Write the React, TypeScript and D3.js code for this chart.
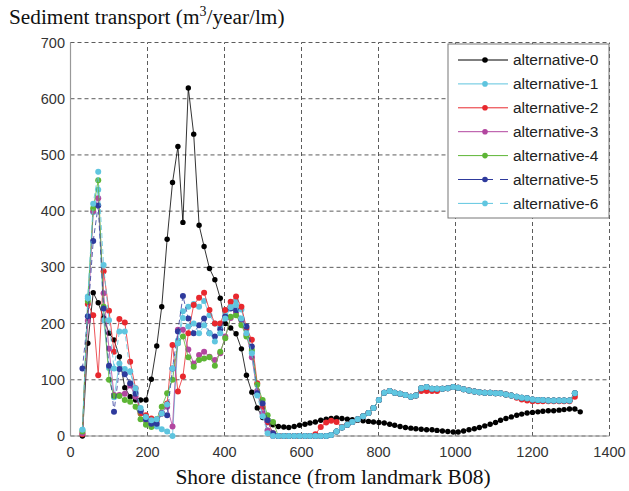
import * as React from 'react';
import * as d3 from 'd3';

// shore distance of each profile (m from landmark B08)
const distance = [
  31, 45, 59, 72, 86, 100, 113, 127, 141, 155,
  169, 182, 196, 210, 224, 237, 251, 265, 279, 292,
  306, 320, 334, 347, 361, 375, 389, 402, 416, 430,
  444, 457, 471, 485, 499, 512, 526, 540, 554, 567,
  581, 595, 609, 622, 636, 650, 664, 677, 691, 705,
  719, 732, 746, 760, 774, 787, 801, 815, 829, 842,
  856, 870, 884, 897, 911, 925, 939, 952, 966, 980,
  994, 1007, 1021, 1035, 1049, 1062, 1076, 1090, 1104, 1117,
  1131, 1145, 1159, 1172, 1186, 1200, 1214, 1227, 1241, 1255,
  1269, 1282, 1296, 1310, 1324,
];

const alt0 = [
  0, 165, 255, 237, 210, 183, 171, 141, 86, 70,
  64, 64, 64, 101, 160, 230, 350, 451, 515, 380,
  619, 537, 375, 337, 298, 278, 245, 200, 192, 182,
  155, 108, 78, 50, 33, 24, 20, 17, 16, 15,
  17, 19, 21, 23, 25, 28, 30, 31, 32, 31,
  30, 29, 28, 27, 26, 25, 24, 23, 21, 19,
  17, 15, 14, 13, 12, 11, 11, 10, 9, 8,
  7, 7, 9, 11, 13, 15, 18, 21, 24, 28,
  31, 34, 37, 39, 41, 42, 43, 44, 45, 45,
  46, 47, 48, 48, 43,
];

// first 37 profiles (31 .. 526 m) of the alternatives
const alt1Near = [
  11, 248, 398, 438, 206, 121, 69, 129, 119, 114,
  79, 45, 34, 22, 17, 12, 8, 0, 170, 222,
  230, 235, 230, 240, 215, 200, 195, 215, 230, 240,
  225, 190, 150, 80, 40, 10, 0,
];
const alt2Near = [
  3, 235, 215, 108, 293, 223, 150, 208, 202, 132,
  85, 40, 37, 31, 28, 40, 58, 162, 79, 106,
  183, 233, 246, 255, 224, 200, 200, 224, 239, 248,
  230, 192, 171, 94, 52, 25, 5,
];
const alt3Near = [
  5, 205, 400, 423, 254, 155, 73, 73, 75, 90,
  70, 45, 28, 25, 30, 42, 52, 17, 189, 189,
  154, 129, 144, 150, 141, 135, 147, 177, 210, 220,
  205, 180, 140, 80, 40, 10, 0,
];
const alt4Near = [
  8, 240, 405, 455, 230, 100, 71, 71, 64, 61,
  52, 30, 20, 16, 30, 52, 76, 100, 165, 177,
  140, 123, 135, 138, 140, 125, 150, 174, 212, 215,
  197, 177, 153, 91, 64, 37, 25,
];
const alt5Near = [
  120, 213, 347, 410, 227, 125, 43, 119, 110, 94,
  75, 45, 30, 22, 22, 40, 37, 120, 186, 249,
  209, 183, 197, 209, 183, 177, 190, 212, 227, 224,
  208, 195, 159, 76, 58, 28, 5,
];
const alt6Near = [
  11, 245, 413, 470, 304, 206, 120, 186, 186, 115,
  85, 50, 34, 28, 30, 40, 56, 120, 165, 210,
  195, 200, 183, 197, 183, 168, 183, 209, 229, 233,
  209, 183, 147, 72, 35, 5, 0,
];

// remaining profiles (540 .. 1310 m), where alternatives 1, 3, 4, 5, 6 coincide
const tailShared = [
  0, 0, 0, 0, 0, 0, 0, 0, 0, 0,
  2, 8, 15, 20, 25, 30, 35, 41, 50, 64,
  77, 80, 77, 75, 73, 70, 72, 85, 87, 84,
  84, 84, 85, 87, 86, 83, 81, 79, 78, 77,
  77, 76, 76, 74, 72, 70, 68, 67, 65, 64,
  64, 63, 63, 63, 63, 63, 76,
];
const alt2Tail = [
  0, 0, 0, 0, 0, 0, 0, 3, 16, 24,
  27, 25, 16, 20, 25, 30, 35, 41, 50, 64,
  77, 80, 77, 75, 73, 70, 72, 80, 80, 80,
  80, 84, 85, 87, 86, 83, 81, 79, 78, 77,
  77, 76, 76, 74, 72, 68, 65, 63, 62, 62,
  62, 62, 62, 62, 62, 62, 70,
];

const names = ['alternative-0', 'alternative-1', 'alternative-2', 'alternative-3',
  'alternative-4', 'alternative-5', 'alternative-6'];
const colors = ['#000000', '#5ec4de', '#e8282e', '#b2469f', '#5db535', '#2e3a9c', '#60c6e0'];

const series = [
  alt0,
  alt1Near.concat(tailShared),
  alt2Near.concat(alt2Tail),
  alt3Near.concat(tailShared),
  alt4Near.concat(tailShared),
  alt5Near.concat(tailShared),
  alt6Near.concat(tailShared),
];

const W = 629;
const H = 491;

const App = () => {
  const x = d3.scaleLinear().domain([0, 1400]).range([70.5, 609.5]);
  const y = d3.scaleLinear().domain([0, 700]).range([436, 42.5]);
  const xTicks = x.ticks(7);
  const yTicks = y.ticks(7);

  const line = d3.line<number>()
    .x((d, i) => x(distance[i]))
    .y((d) => y(d));

  const sans = 'Liberation Sans, Arial, sans-serif';
  const serif = 'Liberation Serif, Times New Roman, serif';

  const legX = 448, legY = 44, legW = 161, legH = 174, legStep = 23.9;

  return (
    <svg width={W} height={H} style={{ position: 'absolute', left: 0, top: 0, background: '#fff' }}>
      {/* grid */}
      {xTicks.map((t) => (
        <line key={'gx' + t} x1={x(t)} x2={x(t)} y1={y(0)} y2={y(700)}
          stroke="#4a4a4a" strokeWidth={0.9} strokeDasharray="4,3" />
      ))}
      {yTicks.map((t) => (
        <line key={'gy' + t} x1={x(0)} x2={x(1400)} y1={y(t)} y2={y(t)}
          stroke="#4a4a4a" strokeWidth={0.9} strokeDasharray="4,3" />
      ))}
      {/* axes */}
      <line x1={x(0)} x2={x(0)} y1={y(0)} y2={y(700)} stroke="#999" strokeWidth={1.2} />
      <line x1={x(0)} x2={x(1400)} y1={y(0)} y2={y(0)} stroke="#999" strokeWidth={1.2} />

      {/* series */}
      {series.map((vals, s) => (
        <g key={'s' + s}>
          <path d={line(vals) || ''} fill="none" stroke={colors[s]} strokeWidth={0.8}
            strokeDasharray={s >= 5 ? '5,3' : undefined} />
          {vals.map((v, i) => (
            <circle key={i} cx={x(distance[i])} cy={y(v)} r={s === 0 ? 2.7 : 3} fill={colors[s]} />
          ))}
        </g>
      ))}

      {/* tick labels */}
      {yTicks.map((t) => (
        <text key={'ty' + t} x={65} y={y(t)} dy="0.35em" textAnchor="end"
          fontFamily={sans} fontSize={14.5} fill="#333">{t}</text>
      ))}
      {xTicks.map((t) => (
        <text key={'tx' + t} x={x(t)} y={457} textAnchor="middle"
          fontFamily={sans} fontSize={14.5} fill="#333">{t}</text>
      ))}

      {/* titles */}
      <text x={9} y={24} fontFamily={serif} fontSize={21.3} fill="#111">
        Sediment transport (m<tspan dy={-8} fontSize={14}>3</tspan><tspan dy={8}>/year/lm)</tspan>
      </text>
      <text x={333} y={484} textAnchor="middle" fontFamily={serif} fontSize={21.5} fill="#111">
        Shore distance (from landmark B08)
      </text>

      {/* legend */}
      <rect x={legX} y={legY} width={legW} height={legH} fill="#fff" stroke="#777" strokeWidth={1} />
      {names.map((n, s) => {
        const ly = legY + 16 + s * legStep;
        return (
          <g key={'l' + s}>
            {s >= 5 ? (
              <>
                <line x1={458} x2={493} y1={ly} y2={ly} stroke={colors[s]} strokeWidth={1} />
                <line x1={500} x2={508} y1={ly} y2={ly} stroke={colors[s]} strokeWidth={1} />
              </>
            ) : (
              <line x1={458} x2={508} y1={ly} y2={ly} stroke={colors[s]} strokeWidth={1} />
            )}
            <circle cx={485} cy={ly} r={2.8} fill={colors[s]} />
            <text x={513} y={ly} dy="0.35em" fontFamily={sans} fontSize={15.5} fill="#222">{n}</text>
          </g>
        );
      })}
    </svg>
  );
};

export default App;
